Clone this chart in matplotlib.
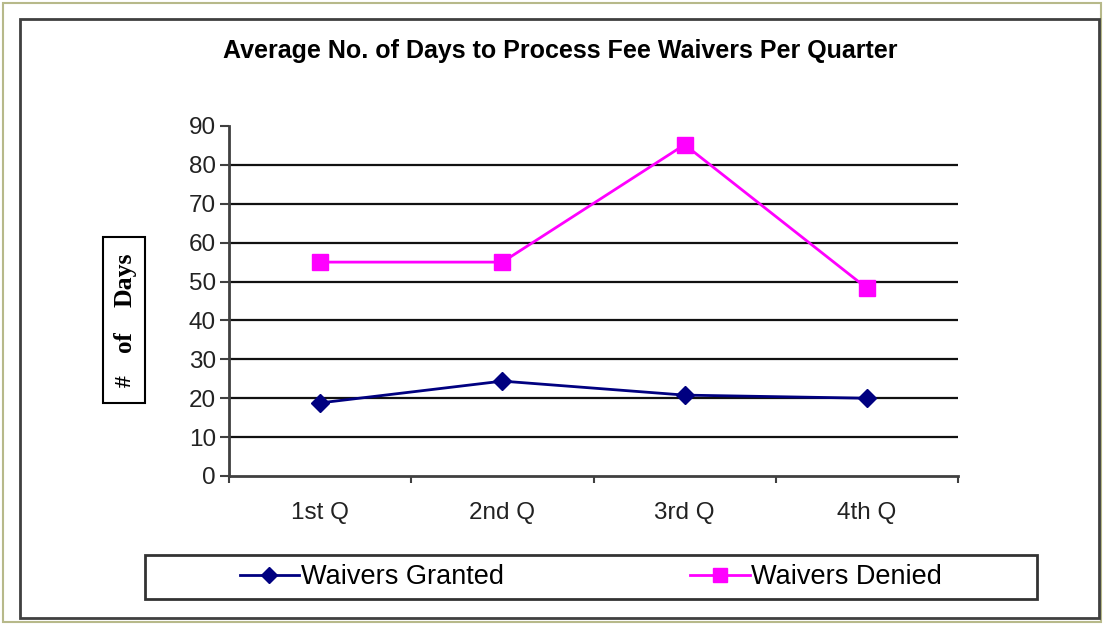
import matplotlib.pyplot as plt
from matplotlib.patches import Rectangle
from matplotlib.lines import Line2D

# data
quarters = ["1st Q", "2nd Q", "3rd Q", "4th Q"]
granted = [18.8, 24.4, 20.8, 20.0]
denied = [55.0, 55.0, 85.2, 48.3]
y_ticks = list(range(0, 100, 10))

W, H = 1103, 624
fig = plt.figure(figsize=(W / 100, H / 100), dpi=100)
fig.patch.set_facecolor("white")

def px(x0, y0, x1, y1):
    # pixel box (top-left origin) -> figure fraction rect
    return [x0 / W, 1 - y1 / H, (x1 - x0) / W, (y1 - y0) / H]

def box(x0, y0, x1, y1, color, lw):
    r = px(x0, y0, x1, y1)
    fig.add_artist(Rectangle((r[0], r[1]), r[2], r[3], transform=fig.transFigure,
                             fill=False, edgecolor=color, linewidth=lw))
    return r

# outer olive frame + inner chart frame
box(3, 3, 1101, 622, "#b7b98a", 1.5)
box(20, 19, 1099, 618, "#404040", 2)

ax = fig.add_axes(px(229, 126, 958, 476))
x = list(range(len(quarters)))
ax.plot(x, granted, color="#000080", marker="D", markersize=9.5, linewidth=2,
        label="Waivers Granted", zorder=3)
ax.plot(x, denied, color="#ff00ff", marker="s", markersize=12, linewidth=2,
        label="Waivers Denied", zorder=3)

ax.set_xlim(-0.5, len(quarters) - 0.5)
ax.set_ylim(0, 90)
ax.set_yticks(y_ticks)
ax.set_xticks(x)
ax.set_xticklabels(quarters)
ax.set_xticks([i - 0.5 for i in range(len(quarters) + 1)], minor=True)
for yv in y_ticks[1:-1]:
    ax.axhline(yv, color="#111111", linewidth=1.6, zorder=1)

for s in ["top", "right"]:
    ax.spines[s].set_visible(False)
for s in ["left", "bottom"]:
    ax.spines[s].set_color("#404040")
    ax.spines[s].set_linewidth(2)

ax.tick_params(axis="x", which="major", length=0, pad=19, labelsize=17.5,
               labelcolor="#222222")
ax.tick_params(axis="x", which="minor", length=5, width=1.5, color="#404040")
ax.tick_params(axis="y", length=6.5, width=1.5, color="#404040", pad=3,
               labelsize=17.5, labelcolor="#222222")
for lbl in ax.get_xticklabels() + ax.get_yticklabels():
    lbl.set_fontfamily("Liberation Sans")

fig.text(560 / W, 1 - 51 / H, "Average No. of Days to Process Fee Waivers Per Quarter",
         ha="center", va="center", fontsize=18, fontweight="bold",
         family="Liberation Sans")

# y label in its own box, words spread out like the original
box(103, 237, 145, 403, "black", 1.5)
for word, yc, fs in [("Days", 280, 18.5), ("of", 342, 18), ("#", 381, 17)]:
    fig.text(125 / W, 1 - yc / H, word, rotation=90, ha="center", va="center",
             fontsize=fs, fontweight="bold", family="Liberation Serif")

# legend with a separate frame box
r = box(145, 555, 1037, 599, "#333333", 2)
handles = [Line2D([], [], color="#000080", marker="D", markersize=8, linewidth=2),
           Line2D([], [], color="#ff00ff", marker="s", markersize=10, linewidth=2)]
fig.legend(handles, ["Waivers Granted", "Waivers Denied"], loc="center",
           bbox_to_anchor=(r[0] + r[2] / 2, r[1] + r[3] / 2), ncol=2,
           frameon=False, handlelength=2.2, handletextpad=0.05,
           columnspacing=6.9, prop={"family": "Liberation Sans", "size": 19.5})

fig.savefig("out.png", dpi=100, facecolor="white")
